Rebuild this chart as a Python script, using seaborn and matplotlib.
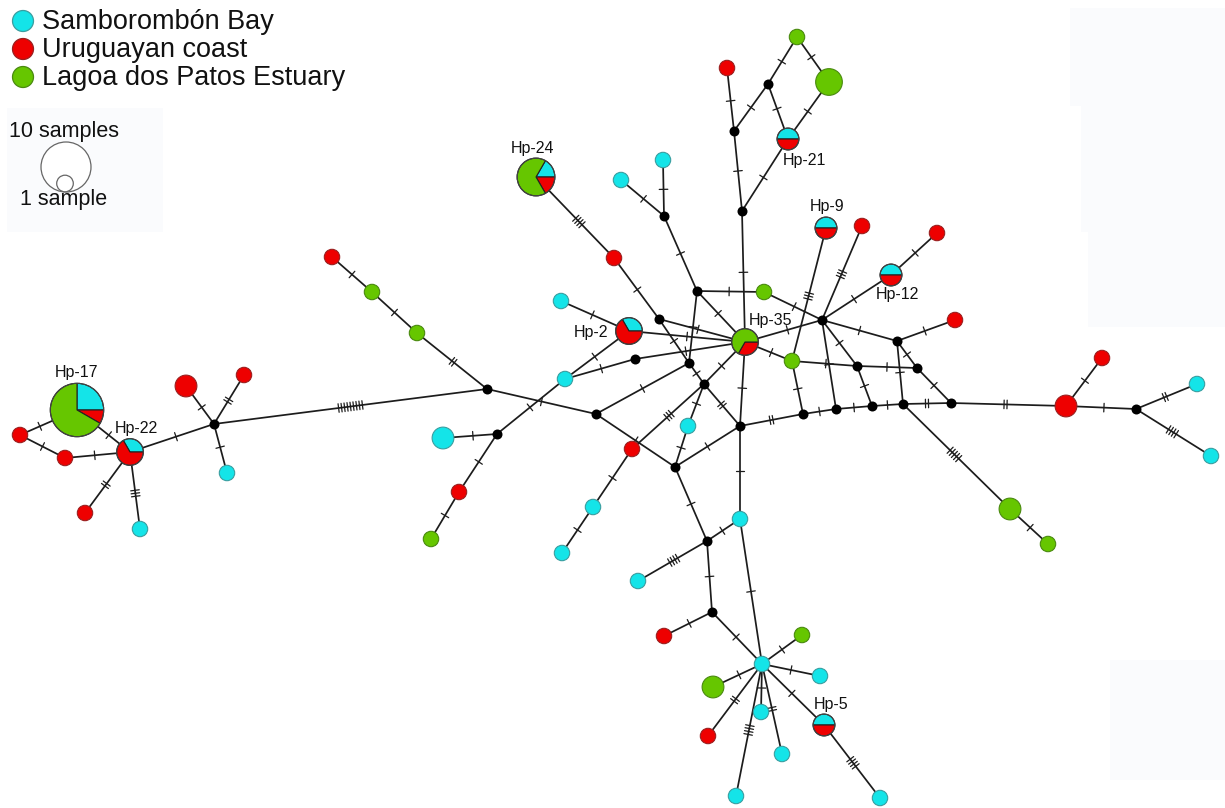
import numpy as np
import matplotlib
matplotlib.use("Agg")
import matplotlib.pyplot as plt
from matplotlib.patches import Circle, Wedge, Rectangle
import pandas as pd
import seaborn as sns

sns.set_theme(style="white")
plt.rcParams["font.family"] = ["Liberation Sans", "DejaVu Sans"]

# ---------------------------------------------------------------------------
# Populations
populations = ["Samborombón Bay", "Uruguayan coast", "Lagoa dos Patos Estuary"]
pop_colors = ["#14e4e8", "#ee0000", "#66c600"]
pop_edges = ["#3a9ea0", "#9a2020", "#4a8a10"]

# ---------------------------------------------------------------------------
# Sampled haplotypes: id and sample counts per population
hap_id = ["H17", "H22", "RA", "RB", "RC", "CD", "RE", "RF", "CG", "RH", "GI", "GJ",
          "CK", "RL", "GN", "H24", "C1", "C2", "H21", "G3", "G4", "R3", "H9", "R4",
          "R5", "H12", "R6", "R1", "G1", "C3", "H2", "H35", "G2", "C4", "C5", "R2",
          "C8", "C9", "R7", "R8", "C6", "C7", "G5", "G6", "C10", "C11", "R9", "S",
          "G7", "G8", "C15", "H5", "R10", "C12", "C13", "C14", "C16"]
n_samborombon = [3, 1, 0, 0, 0, 1, 0, 0, 1, 0, 0, 0,
                 2, 0, 0, 1, 1, 1, 1, 0, 0, 0, 1, 0,
                 0, 1, 0, 0, 0, 1, 1, 0, 0, 1, 1, 0,
                 1, 1, 0, 0, 1, 1, 0, 0, 1, 1, 0, 1,
                 0, 0, 1, 1, 0, 1, 1, 1, 1]
n_uruguay = [1, 2, 1, 1, 1, 0, 2, 1, 0, 1, 0, 0,
             0, 1, 0, 1, 0, 0, 1, 0, 0, 1, 1, 1,
             1, 1, 1, 1, 0, 0, 2, 1, 0, 0, 0, 1,
             0, 0, 2, 1, 0, 0, 0, 0, 0, 0, 1, 0,
             0, 0, 0, 1, 1, 0, 0, 0, 0]
n_patos = [8, 0, 0, 0, 0, 0, 0, 0, 0, 0, 1, 1,
           0, 0, 1, 4, 0, 0, 0, 1, 3, 0, 0, 0,
           0, 0, 0, 0, 1, 0, 0, 2, 1, 0, 0, 0,
           0, 0, 0, 0, 0, 0, 2, 1, 0, 0, 0, 0,
           2, 1, 0, 0, 0, 0, 0, 0, 0]

# Haplotype names shown next to shared haplotypes
hap_labels = {"H17": "Hp-17", "H22": "Hp-22", "H24": "Hp-24", "H21": "Hp-21",
              "H9": "Hp-9", "H12": "Hp-12", "H2": "Hp-2", "H35": "Hp-35", "H5": "Hp-5"}

# Median vectors (inferred, unsampled haplotypes)
med_id = ["M%d" % i for i in range(1, 28)]

# Network links: endpoints and number of mutational steps
edge_a = ["RA", "RA", "RB", "H17", "H22", "H22", "H22", "M1", "M1", "M1", "M1", "M2",
          "GJ", "GI", "CK", "M3", "RL", "M2", "M3",
          "H24", "R1", "C2", "C1", "M4", "M7", "M7", "M7", "M8", "M8", "M10", "M10",
          "C3", "H2", "C4", "C4", "M9", "M11", "M11", "M11", "M11", "C5", "M12", "M15",
          "H35", "M5", "R2", "C8", "H35", "H35", "G1",
          "R3", "M6", "M17", "G3", "G4", "M17", "M6", "H21",
          "H9", "R4", "H12", "H12", "M16", "M18", "M18", "M18", "M20", "G2", "M19",
          "M16", "M16", "M19", "G2", "M14", "M13", "M21", "M22", "M23", "M24", "R7",
          "R7", "M25", "M25", "M23", "G5",
          "M15", "C10", "M26", "M26", "M27", "M27", "C10", "M14", "S", "S", "S", "S",
          "S", "S", "S", "S", "H5"]
edge_b = ["H17", "RB", "H22", "H22", "RC", "CD", "M1", "RE", "RF", "CG", "M2", "GJ",
          "GI", "RH", "M3", "RL", "GN", "M12", "C4",
          "R1", "M8", "M4", "M4", "M7", "G1", "H35", "M10", "H35", "M10", "M11", "M12",
          "H2", "H35", "H2", "M9", "H35", "H35", "R2", "C5", "M14", "M15", "M15", "M14",
          "M14", "H35", "C8", "C9", "G2", "M16", "M16",
          "M6", "M17", "G3", "G4", "H21", "H21", "M5", "M5",
          "G2", "M16", "M16", "R5", "M18", "R6", "M23", "M20", "M24", "M19", "M20",
          "M19", "M21", "M22", "M13", "M13", "M21", "M22", "M23", "M24", "R7", "M25",
          "R8", "C6", "C7", "G5", "G6",
          "M26", "M26", "C11", "M27", "R9", "S", "S", "C10", "G7", "R10", "C12", "C14",
          "C13", "G8", "C15", "H5", "C16"]
edge_steps = [1, 1, 1, 1, 2, 3, 1, 1, 2, 1, 9, 2,
              1, 1, 1, 1, 1, 1, 1,
              4, 1, 1, 1, 1, 1, 1, 1, 1, 1, 1, 1,
              1, 1, 1, 1, 1, 1, 3, 1, 2, 1, 1, 1,
              1, 1, 1, 1, 1, 1, 1,
              1, 1, 1, 1, 1, 1, 1, 1,
              3, 3, 1, 1, 1, 1, 1, 1, 1, 1, 1,
              1, 1, 1, 1, 2, 1, 1, 1, 2, 2, 1,
              1, 2, 4, 5, 1,
              1, 1, 4, 1, 1, 1, 1, 1, 1, 2, 1, 4,
              2, 1, 1, 1, 4]

# ---------------------------------------------------------------------------
# Drawing layout (canvas pixel space, y pointing down)
hap_layout_x = [77, 130, 20, 65, 85, 140, 186, 244, 227, 332, 372, 417,
                443, 459, 431, 536, 663, 621, 788, 797, 829, 727, 826, 862,
                937, 891, 955, 614, 764, 561, 629, 745, 792, 565, 688, 632,
                593, 562, 1066, 1102, 1197, 1211, 1010, 1048, 740, 638, 664, 762,
                713, 802, 820, 824, 708, 761, 782, 736, 880]
hap_layout_y = [410, 452, 435, 458, 513, 529, 386, 375, 473, 257, 292, 333,
                438, 492, 539, 177, 160, 180, 139, 37, 82, 68, 228, 226,
                233, 275, 320, 258, 292, 301, 331, 342, 361, 379, 426, 449,
                507, 553, 406, 358, 384, 456, 509, 544, 519, 581, 636, 664,
                687, 635, 676, 725, 736, 712, 754, 796, 798]
med_layout_x = [214, 487, 497, 664, 742, 734, 697, 659, 635, 689, 704, 596, 803, 740,
                675, 822, 768, 897, 857, 917, 836, 872, 903, 951, 1136, 707, 712]
med_layout_y = [424, 389, 434, 216, 211, 131, 291, 319, 359, 363, 384, 414, 414, 426,
                467, 320, 84, 341, 366, 368, 409, 406, 404, 403, 409, 541, 612]
label_offset = {"H17": (0, -38), "H22": (6, -24), "H24": (-3, -28), "H21": (16, 22),
                "H9": (1, -21), "H12": (6, 19), "H2": (-38, 1), "H35": (25, -22),
                "H5": (7, -21)}

R_ONE = 7.7      # radius of a one-sample circle
R_MED = 5.0      # radius of a median vector
W, H = 1225, 808

haps = pd.DataFrame({"id": hap_id, "x": hap_layout_x, "y": hap_layout_y,
                     "sb": n_samborombon, "uy": n_uruguay, "lp": n_patos})
haps["n"] = haps[["sb", "uy", "lp"]].sum(axis=1)
haps["r"] = R_ONE * np.sqrt(haps["n"])
meds = pd.DataFrame({"id": med_id, "x": med_layout_x, "y": med_layout_y})
meds["r"] = R_MED

pos = {}
for df in (haps, meds):
    for _, row in df.iterrows():
        pos[row["id"]] = (row["x"], row["y"], row["r"])

fig = plt.figure(figsize=(W / 100, H / 100), dpi=100)
ax = fig.add_axes([0, 0, 1, 1])

# faint background panels
panel_color = "#fafbfd"
for (x0, y0, w, h) in [(7, 108, 156, 124), (1070, 8, 155, 98), (1081, 106, 144, 126),
                       (1088, 232, 137, 95), (1110, 660, 115, 120)]:
    ax.add_patch(Rectangle((x0, y0), w, h, facecolor=panel_color, edgecolor="none",
                           zorder=0))

# links with mutation hatch marks
line_col = "#1c1c1c"
for a, b, k in zip(edge_a, edge_b, edge_steps):
    xa, ya, ra = pos[a]
    xb, yb, rb = pos[b]
    ax.plot([xa, xb], [ya, yb], color=line_col, lw=1.25, zorder=1,
            solid_capstyle="butt")
    d = np.hypot(xb - xa, yb - ya)
    ux, uy = (xb - xa) / d, (yb - ya) / d
    px, py = -uy, ux
    t_mid = (ra + (d - rb)) / 2.0
    mx, my = xa + ux * t_mid, ya + uy * t_mid
    spacing, half = 3.0, 4.3
    for i in range(k):
        off = (i - (k - 1) / 2.0) * spacing
        cx, cy = mx + ux * off, my + uy * off
        ax.plot([cx - px * half, cx + px * half], [cy - py * half, cy + py * half],
                color=line_col, lw=0.9, zorder=1)

# median vectors
sns.scatterplot(data=meds, x="x", y="y", ax=ax, color="black", s=(2 * R_MED * 0.72) ** 2,
                linewidth=0, zorder=3, legend=False)

# haplotype circles / pies (angles given on screen, counter-clockwise;
# the y axis points down, so they are mirrored into data space)
for _, row in haps.iterrows():
    x, y, r, n = row["x"], row["y"], row["r"], row["n"]
    counts = [row["sb"], row["uy"], row["lp"]]
    present = [i for i, c in enumerate(counts) if c > 0]
    if len(present) == 1:
        i = present[0]
        ax.add_patch(Circle((x, y), r, facecolor=pop_colors[i], edgecolor=pop_edges[i],
                            lw=0.8, zorder=4))
        continue
    fc, fr = counts[0] / n, counts[1] / n
    spans = [(0.0, 360 * fc), (-360 * fr, 0.0), (360 * fc, 360 - 360 * fr)]
    for i, (t1, t2) in enumerate(spans):
        if counts[i] == 0:
            continue
        ax.add_patch(Wedge((x, y), r, -t2, -t1, facecolor=pop_colors[i],
                           edgecolor="#222222", lw=0.8, zorder=4))
    ax.add_patch(Circle((x, y), r, facecolor="none", edgecolor="#444444", lw=0.8,
                        zorder=5))

# haplotype names
for hid, text in hap_labels.items():
    x, y, _ = pos[hid]
    dx, dy = label_offset[hid]
    ax.text(x + dx, y + dy, text, fontsize=11.5, ha="center", va="center",
            color="#111111", zorder=6)

# colour legend
for i, (name, col) in enumerate(zip(populations, pop_colors)):
    cy = 21 + i * 28
    ax.add_patch(Circle((23, cy), 10.5, facecolor=col, edgecolor=pop_edges[i], lw=0.9,
                        zorder=6))
    ax.text(42, cy + 1, name, fontsize=19.5, ha="left", va="center", color="#111111",
            zorder=6)

# circle-size legend
ax.add_patch(Circle((66, 167), 25, facecolor="white", edgecolor="#666666", lw=0.9,
                    zorder=6))
ax.add_patch(Circle((65, 183.5), 8.3, facecolor="white", edgecolor="#666666", lw=0.9,
                    zorder=6))
ax.text(64, 132, "10 samples", fontsize=15.5, ha="center", va="center",
        color="#111111", zorder=6)
ax.text(64, 199, "1 sample", fontsize=15.5, ha="center", va="center",
        color="#111111", zorder=6)

ax.set_xlim(0, W)
ax.set_ylim(H, 0)
ax.set_aspect("equal")
ax.axis("off")

fig.savefig("out.png", dpi=100, facecolor="white")
